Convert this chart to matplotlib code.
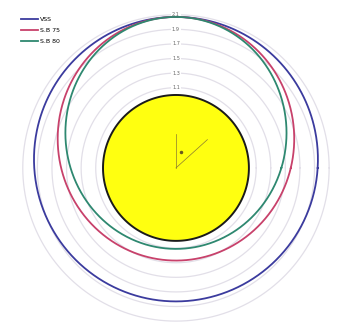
import numpy as np
import matplotlib
matplotlib.use('Agg')
import matplotlib.pyplot as plt

# orbit radii in units of the central body's radius
labels = ['VSS', 'S.B 75', 'S.B 80']
r_apo = [2.07, 2.07, 2.07]
r_peri = [1.83, 1.27, 1.11]
colors = ['#3b3b9e', '#c8416b', '#2e8870']

ring_values = [1.1, 1.3, 1.5, 1.7, 1.9, 2.1]
ring_labels = ['1.1', '1.3', '1.5', '1.7', '1.9', '2.1']

body_radius = 1.0


def conic(theta, ra, rp):
    # focus at origin, apoapsis pointing up
    e = (ra - rp) / (ra + rp)
    p = 2 * ra * rp / (ra + rp)
    return p / (1 - e * np.sin(theta))


fig = plt.figure(figsize=(3.44, 3.22), dpi=100)
ax = fig.add_axes([0.045, -0.02, 0.933, 0.997], projection='polar')
ax.set_ylim(0, 2.2)
ax.spines['polar'].set_visible(False)
ax.set_xticks([])
ax.set_yticks([])
ax.grid(False)

theta = np.linspace(0, 2 * np.pi, 721)

for r in ring_values:
    ax.plot(theta, np.full_like(theta, r), color='#e2dfe8', lw=0.9, zorder=1)
for r, s in zip(ring_values, ring_labels):
    ax.text(np.pi / 2, r, s, fontsize=3.6, color='#666666', ha='center', va='center',
            bbox=dict(facecolor='white', edgecolor='none', pad=0.6), zorder=3)

ax.fill(theta, np.full_like(theta, body_radius), facecolor='#ffff10',
        edgecolor='#1a1a1a', lw=1.4, zorder=2)

# small angle marker at the focus
ax.plot([0, np.pi / 2], [0, 0.46], color='#8a7a30', lw=0.5, zorder=3)
ax.plot([0, np.deg2rad(42)], [0, 0.58], color='#8a7a30', lw=0.5, zorder=3)
ax.plot([np.deg2rad(73)], [0.23], 'o', color='#6a5a20', ms=1.5, zorder=3)

for ra, rp, c, lab in zip(r_apo, r_peri, colors, labels):
    ax.plot(theta, conic(theta, ra, rp), color=c, lw=1.3, label=lab, zorder=4)

fig.legend(loc='upper left', bbox_to_anchor=(0.055, 0.955), frameon=False,
           fontsize=4.5, handlelength=2.6, handletextpad=0.4, labelspacing=0.9,
           borderaxespad=0)

fig.savefig('out.png', dpi=100)
